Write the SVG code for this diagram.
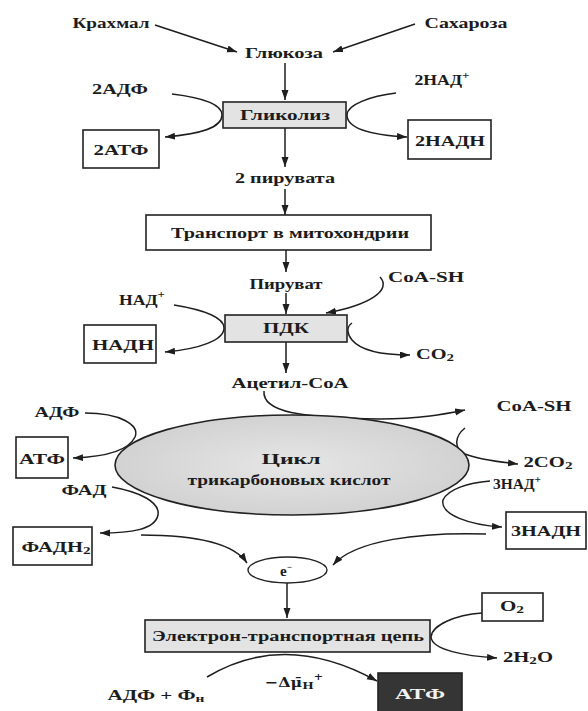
<svg xmlns="http://www.w3.org/2000/svg" width="588" height="711" viewBox="0 0 588 711">
<defs>
<marker id="ah" markerUnits="userSpaceOnUse" markerWidth="11" markerHeight="8" refX="10" refY="3.5" orient="auto">
<path d="M0,0 L10,3.5 L0,7 z" fill="#1e1e1e"/>
</marker>
<radialGradient id="eg" cx="0.5" cy="0.5" r="0.5">
<stop offset="0" stop-color="#e6e6e6"/>
<stop offset="1" stop-color="#d2d2d2"/>
</radialGradient>
<style>
text{font-family:"Liberation Serif","DejaVu Serif",serif;font-weight:bold;font-size:15px;fill:#1c1c1c;dominant-baseline:central;text-anchor:middle}
.sm{font-size:11px}
.box{fill:#fff;stroke:#222;stroke-width:1.6}
.gbox{fill:#e3e3e3;stroke:#222;stroke-width:1.6}
.c{fill:none;stroke:#1e1e1e;stroke-width:1.5;marker-end:url(#ah)}
</style>
</defs>
<rect width="588" height="711" fill="#fff"/>

<g id="connectors">
<path class="c" d="M155,25 L237,52"/>
<path class="c" d="M415,24 L333,52"/>
<path class="c" d="M285,63 L285,100"/>
<path class="c" d="M172,94 C205,98 222,105 222,115 C222,128 200,134 165,137"/>
<path class="c" d="M396,93 C370,96 347,105 347,115 C347,128 370,135 407,137"/>
<path class="c" d="M285,128 L285,167"/>
<path class="c" d="M285,189 L285,215"/>
<path class="c" d="M286,250 L286,272"/>
<path class="c" d="M286,293 L286,314"/>
<path class="c" d="M380,277 C392,290 370,305 326,313"/>
<path class="c" d="M174,305 C205,310 224,318 224,328 C224,340 200,349 165,352"/>
<path class="c" d="M352,323 C346,327 347,334 352,340 C362,352 385,355 410,355"/>
<path class="c" d="M286,342 L286,373"/>
<path class="c" d="M264,391 C262,412 300,418 380,419 C420,419 445,414 465,410"/>
<path class="c" d="M85,413 C120,413 140,425 135,437 C128,452 100,457 73,458"/>
<path class="c" d="M112,487 C140,492 160,502 158,515 C155,530 130,533 100,533"/>
<path class="c" d="M465,428 C455,436 453,448 465,454 C480,460 500,462 518,464"/>
<path class="c" d="M490,481 C468,483 448,489 443,500 C440,515 470,525 502,527"/>
<path class="c" d="M141,535 C200,535 235,545 247,563"/>
<path class="c" d="M486,534 C420,532 355,540 333,565"/>
<path class="c" d="M287,583 L287,618"/>
<path class="c" d="M482,613 C455,615 432,625 431,637 C432,650 465,656 497,658"/>
<path class="c" d="M207,677 Q285,630 377,681"/>
</g>

<g id="krahmal"><text x="111" y="23" textLength="77" lengthAdjust="spacingAndGlyphs">Крахмал</text></g>
<g id="saharoza"><text x="466" y="23" textLength="83" lengthAdjust="spacingAndGlyphs">Сахароза</text></g>
<g id="glukoza"><text x="284" y="53" textLength="78" lengthAdjust="spacingAndGlyphs">Глюкоза</text></g>
<g id="adf2"><text x="120" y="89" textLength="56" lengthAdjust="spacingAndGlyphs">2АДФ</text></g>
<g id="nad2"><text x="442" y="80" textLength="55" lengthAdjust="spacingAndGlyphs">2НАД<tspan class="sm" dy="-5">+</tspan></text></g>
<g id="glikoliz"><rect class="gbox" x="223" y="102" width="123" height="26"/><text x="285" y="115" textLength="90" lengthAdjust="spacingAndGlyphs">Гликолиз</text></g>
<g id="atf2"><rect class="box" x="83" y="130" width="76" height="38"/><text x="121" y="150" textLength="55" lengthAdjust="spacingAndGlyphs">2АТФ</text></g>
<g id="nadh2"><rect class="box" x="408" y="120" width="83" height="39"/><text x="450" y="141" textLength="70" lengthAdjust="spacingAndGlyphs">2НАДН</text></g>
<g id="piruvat2"><text x="285" y="178" textLength="100" lengthAdjust="spacingAndGlyphs">2 пирувата</text></g>
<g id="transport"><rect class="box" x="146" y="215" width="285" height="35"/><text x="290" y="233" textLength="238" lengthAdjust="spacingAndGlyphs">Транспорт в митохондрии</text></g>
<g id="piruvat"><text x="286" y="284" textLength="73" lengthAdjust="spacingAndGlyphs">Пируват</text></g>
<g id="coash1"><text x="426" y="277" textLength="76" lengthAdjust="spacingAndGlyphs">CoA-SH</text></g>
<g id="nad"><text x="142" y="300" textLength="46" lengthAdjust="spacingAndGlyphs">НАД<tspan class="sm" dy="-6">+</tspan></text></g>
<g id="pdk"><rect class="gbox" x="225" y="315" width="122" height="27"/><text x="286" y="328" textLength="46" lengthAdjust="spacingAndGlyphs">ПДК</text></g>
<g id="nadh"><rect class="box" x="84" y="325" width="72" height="38"/><text x="123" y="345" textLength="62" lengthAdjust="spacingAndGlyphs">НАДН</text></g>
<g id="co2a"><text x="435" y="354" textLength="38" lengthAdjust="spacingAndGlyphs">CO<tspan class="sm" dy="3">2</tspan></text></g>
<g id="acetil"><text x="290" y="383" textLength="117" lengthAdjust="spacingAndGlyphs">Ацетил-CoA</text></g>
<g id="coash2"><text x="534" y="406" textLength="75" lengthAdjust="spacingAndGlyphs">CoA-SH</text></g>
<g id="adf"><text x="57" y="412" textLength="45" lengthAdjust="spacingAndGlyphs">АДФ</text></g>
<g id="atf"><rect class="box" x="16" y="437" width="52" height="41"/><text x="42" y="459" textLength="46" lengthAdjust="spacingAndGlyphs">АТФ</text></g>
<g id="tca"><ellipse cx="292" cy="465" rx="177" ry="50" fill="url(#eg)" stroke="#222" stroke-width="1.6"/><text x="291" y="459" textLength="59" lengthAdjust="spacingAndGlyphs">Цикл</text><text x="289" y="480" textLength="203" lengthAdjust="spacingAndGlyphs">трикарбоновых кислот</text></g>
<g id="co2b"><text x="548" y="462" textLength="49" lengthAdjust="spacingAndGlyphs">2CO<tspan class="sm" dy="3">2</tspan></text></g>
<g id="fad"><text x="84" y="490" textLength="45" lengthAdjust="spacingAndGlyphs">ФАД</text></g>
<g id="nad3"><text x="517" y="484" textLength="48" lengthAdjust="spacingAndGlyphs">3НАД<tspan class="sm" dy="-5">+</tspan></text></g>
<g id="fadh2"><rect class="box" x="13" y="527" width="79" height="38"/><text x="56" y="547" textLength="69" lengthAdjust="spacingAndGlyphs">ФАДН<tspan class="sm" dy="3">2</tspan></text></g>
<g id="nadh3"><rect class="box" x="506" y="512" width="80" height="37"/><text x="546" y="531" textLength="70" lengthAdjust="spacingAndGlyphs">3НАДН</text></g>
<g id="electron"><ellipse cx="287.5" cy="570" rx="39.5" ry="13" fill="#fff" stroke="#222" stroke-width="1.4"/><text x="286" y="571" font-size="12">e<tspan font-size="9" dy="-4">−</tspan></text></g>
<g id="etc"><rect class="gbox" x="145" y="620" width="285" height="32"/><text x="288" y="636" textLength="272" lengthAdjust="spacingAndGlyphs">Электрон-транспортная цепь</text></g>
<g id="o2"><rect class="box" x="482" y="593" width="61" height="28"/><text x="512" y="606" textLength="24" lengthAdjust="spacingAndGlyphs">O<tspan class="sm" dy="3">2</tspan></text></g>
<g id="h2o"><text x="528" y="657" textLength="50" lengthAdjust="spacingAndGlyphs">2H<tspan class="sm" dy="3">2</tspan><tspan dy="-3">O</tspan></text></g>
<g id="adfphn"><text x="156" y="695" textLength="97" lengthAdjust="spacingAndGlyphs">АДФ + Ф<tspan class="sm" dy="3">н</tspan></text></g>
<g id="dmu"><text x="294" y="682" style="font-family:'DejaVu Serif',serif;font-size:13px" textLength="58" lengthAdjust="spacingAndGlyphs">−Δμ̄<tspan font-size="10" dy="3">H</tspan><tspan font-size="9" dy="-8">+</tspan></text></g>
<g id="atfdark"><rect x="378" y="673" width="84" height="40" fill="#353535" stroke="#222" stroke-width="1.6"/><text x="420" y="694" style="fill:#f2f2f2" textLength="50" lengthAdjust="spacingAndGlyphs">АТФ</text></g>
</svg>
